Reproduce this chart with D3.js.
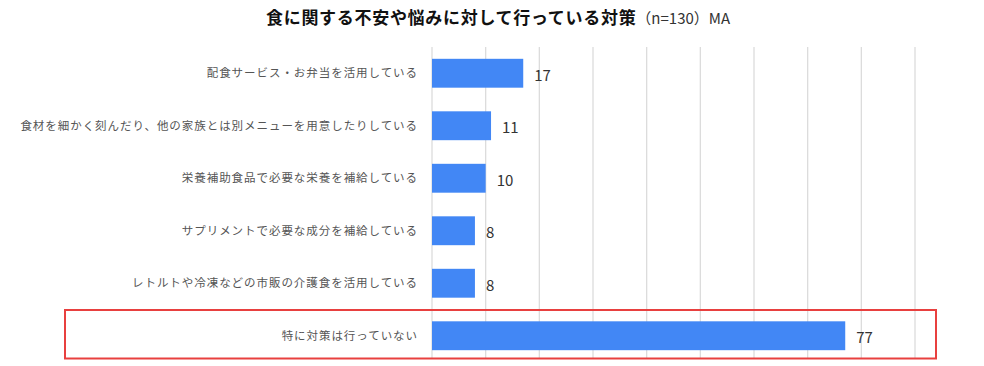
<!DOCTYPE html>
<html lang="ja">
<head>
<meta charset="utf-8">
<script src="https://cdn.jsdelivr.net/npm/d3@7"></script>
<style>
  html, body { margin: 0; padding: 0; background: #fff; }
  #chart { width: 984px; height: 366px; }
  text { font-family: "Noto Sans CJK JP", "Noto Sans", sans-serif; }
</style>
</head>
<body>
<div id="chart"></div>
<script>
const categories = [
  '配食サービス・お弁当を活用している',
  '食材を細かく刻んだり、他の家族とは別メニューを用意したりしている',
  '栄養補助食品で必要な栄養を補給している',
  'サプリメントで必要な成分を補給している',
  'レトルトや冷凍などの市販の介護食を活用している',
  '特に対策は行っていない',
];
const values = [17, 11, 10, 8, 8, 77];
const gridTicks = [0, 10, 20, 30, 40, 50, 60, 70, 80, 90];
const highlighted = '特に対策は行っていない';
const titleMain = '食に関する不安や悩みに対して行っている対策';
const titleSub = '（n=130）MA';

const data = categories.map((c, i) => ({ name: c, value: values[i] }));

const width = 984;
const height = 366;
const margin = { top: 47, right: 69, bottom: 4, left: 432 };

const svg = d3.select('#chart')
  .append('svg')
  .attr('width', width)
  .attr('height', height);

// title
const title = svg.append('text')
  .attr('x', 266)
  .attr('y', 24)
  .attr('fill', '#111');
title.append('tspan')
  .attr('font-size', '17px')
  .attr('font-weight', 700)
  .attr('letter-spacing', '0.7px')
  .text(titleMain);
title.append('tspan')
  .attr('font-size', '15px')
  .attr('font-weight', 400)
  .attr('fill', '#333')
  .text(titleSub);

const x = d3.scaleLinear()
  .domain([0, 90])
  .range([margin.left, width - margin.right]);

const y = d3.scaleBand()
  .domain(categories)
  .range([margin.top, height - margin.bottom])
  .paddingInner(0.45)
  .paddingOuter(0.225);

// grid lines
svg.append('g')
  .selectAll('line')
  .data(gridTicks)
  .enter()
  .append('line')
  .attr('x1', (d) => x(d))
  .attr('x2', (d) => x(d))
  .attr('y1', margin.top)
  .attr('y2', height - margin.bottom - 4)
  .attr('stroke', '#dcdcdc')
  .attr('stroke-width', 1.3);

// bars
svg.append('g')
  .selectAll('rect')
  .data(data)
  .enter()
  .append('rect')
  .attr('x', x(0))
  .attr('y', (d) => y(d.name))
  .attr('width', (d) => x(d.value) - x(0))
  .attr('height', y.bandwidth())
  .attr('fill', '#4287f5');

// value labels
svg.append('g')
  .selectAll('text')
  .data(data)
  .enter()
  .append('text')
  .attr('x', (d) => x(d.value) + 11)
  .attr('y', (d) => y(d.name) + y.bandwidth() / 2 + 2)
  .attr('dy', '0.35em')
  .attr('font-family', '"Open Sans", sans-serif')
  .attr('font-size', '15px')
  .attr('fill', '#333')
  .text((d) => d.value);

// category labels
svg.append('g')
  .selectAll('text')
  .data(data)
  .enter()
  .append('text')
  .attr('x', 418)
  .attr('y', (d) => y(d.name) + y.bandwidth() / 2)
  .attr('dy', '0.35em')
  .attr('text-anchor', 'end')
  .attr('font-size', '11.5px')
  .attr('letter-spacing', '0.95px')
  .attr('fill', '#555')
  .text((d) => d.name);

// highlight box round the last row
const hy = y(highlighted);
svg.append('rect')
  .attr('x', 65)
  .attr('y', hy - (y.step() - y.bandwidth()) / 2 + 0.5)
  .attr('width', 871)
  .attr('height', y.step() - 4)
  .attr('fill', 'none')
  .attr('stroke', '#e8403f')
  .attr('stroke-width', 2);
</script>
</body>
</html>
